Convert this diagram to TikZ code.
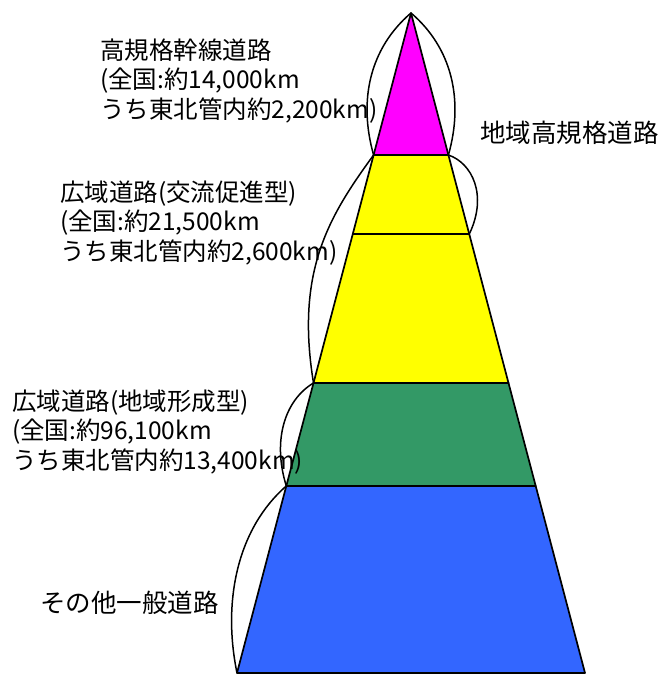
\documentclass[tikz,border=0pt]{standalone}
\usepackage{fontspec}
\newfontfamily\jp{Noto Sans CJK JP}
\definecolor{mag}{HTML}{FF00FF}
\definecolor{ylw}{HTML}{FFFF00}
\definecolor{grn}{HTML}{339966}
\definecolor{blu}{HTML}{3366FF}
\begin{document}
\begin{tikzpicture}[x=1pt,y=-1pt,
  tier/.style={draw=black,line width=1.7pt,line join=round},
  bracecurve/.style={draw=black,line width=1.5pt},
  lbl/.style={font=\jp\fontsize{24.5}{29.5}\selectfont,align=left,inner sep=0pt,anchor=west},
  lblone/.style={lbl,font=\jp\fontsize{25.5}{29.5}\selectfont}]
\useasboundingbox (0,0) rectangle (662,676);
\coordinate (A) at (411,13);
\coordinate (L1) at (373.6,155); \coordinate (R1) at (448.4,155);
\coordinate (L2) at (352.7,234); \coordinate (R2) at (469.3,234);
\coordinate (L3) at (313.5,383); \coordinate (R3) at (508.5,383);
\coordinate (L4) at (286.3,486); \coordinate (R4) at (535.7,486);
\coordinate (L5) at (237,673);   \coordinate (R5) at (585,673);
% tiers
\path[tier,fill=blu] (L4) -- (L5) -- (R5) -- (R4) -- cycle;
\path[tier,fill=grn] (L3) -- (L4) -- (R4) -- (R3) -- cycle;
\path[tier,fill=ylw] (L1) -- (L3) -- (R3) -- (R1) -- cycle;
\path[tier,fill=mag] (A) -- (L1) -- (R1) -- cycle;
\draw[line width=1.2pt] (L2) -- (R2);
% curves
\path[bracecurve] (A) .. controls (370,48) and (358,100) .. (L1);
\path[bracecurve] (A) .. controls (452,48) and (464,100) .. (R1);
\path[bracecurve] (L1) .. controls (330,215) and (295,270) .. (L3);
\path[bracecurve] (L3) .. controls (285,400) and (272,440) .. (L4);
\path[bracecurve] (L4) .. controls (238,528) and (222,600) .. (L5);
\path[bracecurve] (R1) .. controls (472,163) and (488,195) .. (R2);
% labels
\node[lbl] (t1) at (100,81) {高規格幹線道路\\(全国:約14,000km\\うち東北管内約2,200km)};
\node[lbl] (t2) at (60,223) {広域道路(交流促進型)\\(全国:約21,500km\\うち東北管内約2,600km)};
\node[lbl] (t3) at (12,432) {広域道路(地域形成型)\\(全国:約96,100km\\うち東北管内約13,400km)};
\node[lblone] (t4) at (40,603) {その他一般道路};
\node[lblone] (t5) at (480,133) {地域高規格道路};
\end{tikzpicture}
\end{document}
